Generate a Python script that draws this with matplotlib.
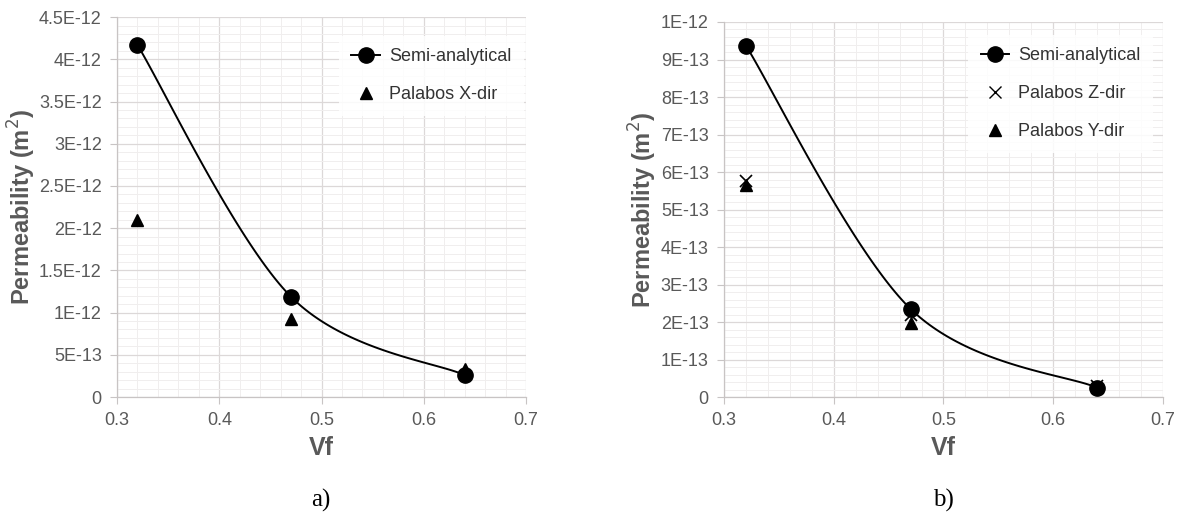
import numpy as np
import matplotlib
matplotlib.use("Agg")
import matplotlib.pyplot as plt
from matplotlib.lines import Line2D
from matplotlib.ticker import MultipleLocator, FixedLocator, FixedFormatter

plt.rcParams['font.family'] = ['Liberation Sans', 'DejaVu Sans']

# fibre volume fraction
vf = [0.32, 0.47, 0.64]

# a) X direction
semi_a = [4.17e-12, 1.19e-12, 0.26e-12]
palabos_x = [2.10e-12, 0.92e-12, 0.33e-12]
yticks_a = [0, 5e-13, 1e-12, 1.5e-12, 2e-12, 2.5e-12, 3e-12, 3.5e-12, 4e-12, 4.5e-12]
ylabels_a = ['0', '5E-13', '1E-12', '1.5E-12', '2E-12', '2.5E-12', '3E-12',
             '3.5E-12', '4E-12', '4.5E-12']

# b) Z and Y directions
semi_b = [9.37e-13, 2.35e-13, 0.25e-13]
palabos_z = [5.75e-13, 2.20e-13, 0.30e-13]
palabos_y = [5.65e-13, 1.97e-13, 0.27e-13]
yticks_b = [0, 1e-13, 2e-13, 3e-13, 4e-13, 5e-13, 6e-13, 7e-13, 8e-13, 9e-13, 1e-12]
ylabels_b = ['0', '1E-13', '2E-13', '3E-13', '4E-13', '5E-13', '6E-13', '7E-13',
             '8E-13', '9E-13', '1E-12']

xticks = [0.3, 0.4, 0.5, 0.6, 0.7]
xlabels = ['0.3', '0.4', '0.5', '0.6', '0.7']

GREY = '#595959'


def smooth_curve(x, y, n=60):
    # Catmull-Rom style bezier, like a spreadsheet "smoothed line"
    p = np.column_stack([x, y]).astype(float)
    pts = np.vstack([p[0], p, p[-1]])
    out = []
    t = np.linspace(0, 1, n)[:, None]
    for i in range(1, len(pts) - 2):
        p0, p1, p2, p3 = pts[i - 1], pts[i], pts[i + 1], pts[i + 2]
        c1 = p1 + (p2 - p0) / 6.0
        c2 = p2 - (p3 - p1) / 6.0
        seg = ((1 - t) ** 3) * p1 + 3 * ((1 - t) ** 2) * t * c1 \
            + 3 * (1 - t) * t ** 2 * c2 + t ** 3 * p2
        out.append(seg)
    seg = np.vstack(out)
    return seg[:, 0], seg[:, 1]


def style_axes(ax, yticks, ylabels, ymax, yminor):
    ax.set_xlim(0.3, 0.7)
    ax.set_ylim(0, ymax)
    ax.xaxis.set_major_locator(FixedLocator(xticks))
    ax.xaxis.set_major_formatter(FixedFormatter(xlabels))
    ax.yaxis.set_major_locator(FixedLocator(yticks))
    ax.yaxis.set_major_formatter(FixedFormatter(ylabels))
    ax.xaxis.set_minor_locator(MultipleLocator(0.02))
    ax.yaxis.set_minor_locator(MultipleLocator(yminor))
    ax.grid(which='major', color='#dcd8d8', lw=0.9)
    ax.grid(which='minor', color='#f0eeee', lw=0.7)
    ax.set_axisbelow(True)
    for s in ['top', 'right']:
        ax.spines[s].set_visible(False)
    for s in ['left', 'bottom']:
        ax.spines[s].set_color('#c8c4c4')
        ax.spines[s].set_linewidth(0.9)
    ax.tick_params(which='major', length=5, color='#c8c4c4', labelsize=13,
                   labelcolor=GREY, pad=6)
    ax.tick_params(which='minor', length=0)
    ax.set_xlabel('Vf', fontsize=18, fontweight='bold', color=GREY, labelpad=5)
    ax.set_ylabel('Permeability (m$^2$)', fontsize=17, fontweight='bold',
                  color=GREY, labelpad=1)


def add_legend(ax, handles, labels, anchor):
    leg = ax.legend(handles, labels, loc='upper left', bbox_to_anchor=anchor,
                    frameon=True, fontsize=13, handlelength=1.6,
                    handletextpad=0.5, labelspacing=1.15, borderpad=0.7)
    leg.get_frame().set_facecolor('white')
    leg.get_frame().set_edgecolor('none')
    leg.get_frame().set_alpha(0.85)
    for t in leg.get_texts():
        t.set_color('#333333')
    return leg


fig = plt.figure(figsize=(11.82, 5.14), dpi=100)
ax1 = fig.add_axes([0.099, 0.2276, 0.346, 0.739])
ax2 = fig.add_axes([0.6125, 0.2276, 0.3714, 0.7296])

# panel a
style_axes(ax1, yticks_a, ylabels_a, 4.5e-12, 1e-13)
xs, ys = smooth_curve(vf, semi_a)
ax1.plot(xs, ys, color='black', lw=1.4, zorder=3)
ax1.plot(vf, semi_a, 'o', color='black', ms=11, zorder=4)
ax1.plot(vf, palabos_x, '^', color='black', ms=9, zorder=5)
h1 = [Line2D([], [], color='black', lw=1.4, marker='o', ms=11),
      Line2D([], [], color='black', ls='none', marker='^', ms=9)]
add_legend(ax1, h1, ['Semi-analytical', 'Palabos X-dir'], (0.52, 0.975))

# panel b
style_axes(ax2, yticks_b, ylabels_b, 1e-12, 2e-14)
xs, ys = smooth_curve(vf, semi_b)
ax2.plot(xs, ys, color='black', lw=1.4, zorder=3)
ax2.plot(vf, semi_b, 'o', color='black', ms=11, zorder=4)
ax2.plot(vf, palabos_z, 'x', color='black', ms=9, mew=1.2, zorder=5)
ax2.plot(vf, palabos_y, '^', color='black', ms=9, zorder=5)
h2 = [Line2D([], [], color='black', lw=1.4, marker='o', ms=11),
      Line2D([], [], color='black', ls='none', marker='x', ms=9, mew=1.0),
      Line2D([], [], color='black', ls='none', marker='^', ms=9)]
add_legend(ax2, h2, ['Semi-analytical', 'Palabos Z-dir', 'Palabos Y-dir'],
           (0.535, 0.99))

# panel captions
fig.text(0.2715, 0.015, 'a)', ha='center', va='baseline', fontsize=18,
         family=['Liberation Serif', 'DejaVu Serif'])
fig.text(0.798, 0.015, 'b)', ha='center', va='baseline', fontsize=18,
         family=['Liberation Serif', 'DejaVu Serif'])

fig.savefig('out.png', dpi=100)
